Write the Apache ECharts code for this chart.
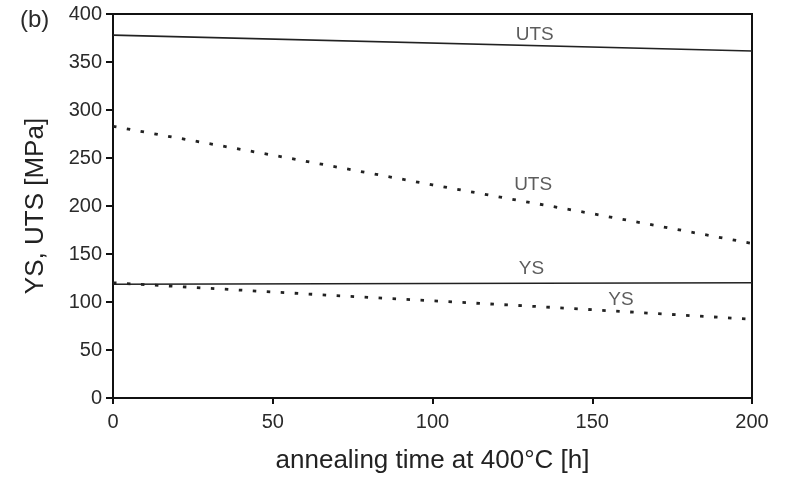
<!DOCTYPE html>
<html>
<head>
<meta charset="utf-8">
<script src="https://cdn.jsdelivr.net/npm/echarts@6/dist/echarts.min.js"></script>
<style>html,body{margin:0;padding:0;background:#fff}#c{width:790px;height:477px}</style>
</head>
<body>
<div id="c"></div>
<script>
// Data
var utsSolid = [[0, 378], [200, 361.5]];
var utsDotted = [[0, 283], [50, 253], [100, 222], [150, 192], [200, 161]];
var ysSolid = [[0, 118.5], [200, 120]];
var ysDotted = [[0, 120], [68, 107], [137, 94.5], [200, 82]];
var labelTexts = ['UTS', 'UTS', 'YS', 'YS'];
var labelX = [132, 131.5, 131, 159];
var labelY = [378, 222, 135, 102];
var xTicks = [0, 50, 100, 150, 200];
var yTicks = [0, 50, 100, 150, 200, 250, 300, 350, 400];

var FONT = 'Liberation Sans, Arial, sans-serif';
var chart = echarts.init(document.getElementById('c'), null, {renderer: 'canvas'});
var labelData = labelTexts.map(function (t, i) { return {value: [labelX[i], labelY[i]], name: t}; });

chart.setOption({
  animation: false,
  backgroundColor: '#fff',
  title: {text: '(b)', left: 15, top: 3, textStyle: {fontFamily: FONT, fontSize: 24, fontWeight: 'normal', color: '#2a2a2a'}},
  grid: {left: 113, right: 38, top: 14, bottom: 79, containLabel: false, outerBoundsMode: 'none',
         show: true, borderColor: '#111', borderWidth: 2, backgroundColor: 'transparent'},
  xAxis: {
    type: 'value', min: xTicks[0], max: xTicks[xTicks.length - 1], interval: 50,
    name: 'annealing time at 400°C [h]', nameLocation: 'middle', nameGap: 50,
    nameTextStyle: {fontFamily: FONT, fontSize: 26, color: '#222'},
    axisLine: {show: true, lineStyle: {color: '#111', width: 2}},
    axisTick: {show: true, inside: false, length: 6, lineStyle: {color: '#111', width: 2}},
    axisLabel: {fontFamily: FONT, fontSize: 20, color: '#2a2a2a', margin: 14},
    splitLine: {show: false}
  },
  yAxis: {
    type: 'value', min: yTicks[0], max: yTicks[yTicks.length - 1], interval: 50,
    name: 'YS, UTS [MPa]', nameLocation: 'middle', nameGap: 64,
    nameTextStyle: {fontFamily: FONT, fontSize: 26, color: '#222'},
    axisLine: {show: true, lineStyle: {color: '#111', width: 2}},
    axisTick: {show: true, inside: false, length: 7, lineStyle: {color: '#111', width: 2}},
    axisLabel: {fontFamily: FONT, fontSize: 20, color: '#2a2a2a', margin: 11},
    splitLine: {show: false}
  },
  series: [
    {type: 'line', data: utsSolid, symbol: 'none', lineStyle: {color: '#222', width: 1.6}},
    {type: 'line', data: utsDotted, symbol: 'none', lineStyle: {color: '#222', width: 2.8, type: [3.5, 10.5]}},
    {type: 'line', data: ysSolid, symbol: 'none', lineStyle: {color: '#222', width: 1.6}},
    {type: 'line', data: ysDotted, symbol: 'none', lineStyle: {color: '#222', width: 2.8, type: [3.5, 10.5]}},
    {type: 'scatter', data: labelData, symbolSize: 0, silent: true,
     label: {show: true, position: 'inside', formatter: function (p) { return p.name; },
             fontFamily: FONT, fontSize: 19, color: '#333'}}
  ]
});
</script>
</body>
</html>
